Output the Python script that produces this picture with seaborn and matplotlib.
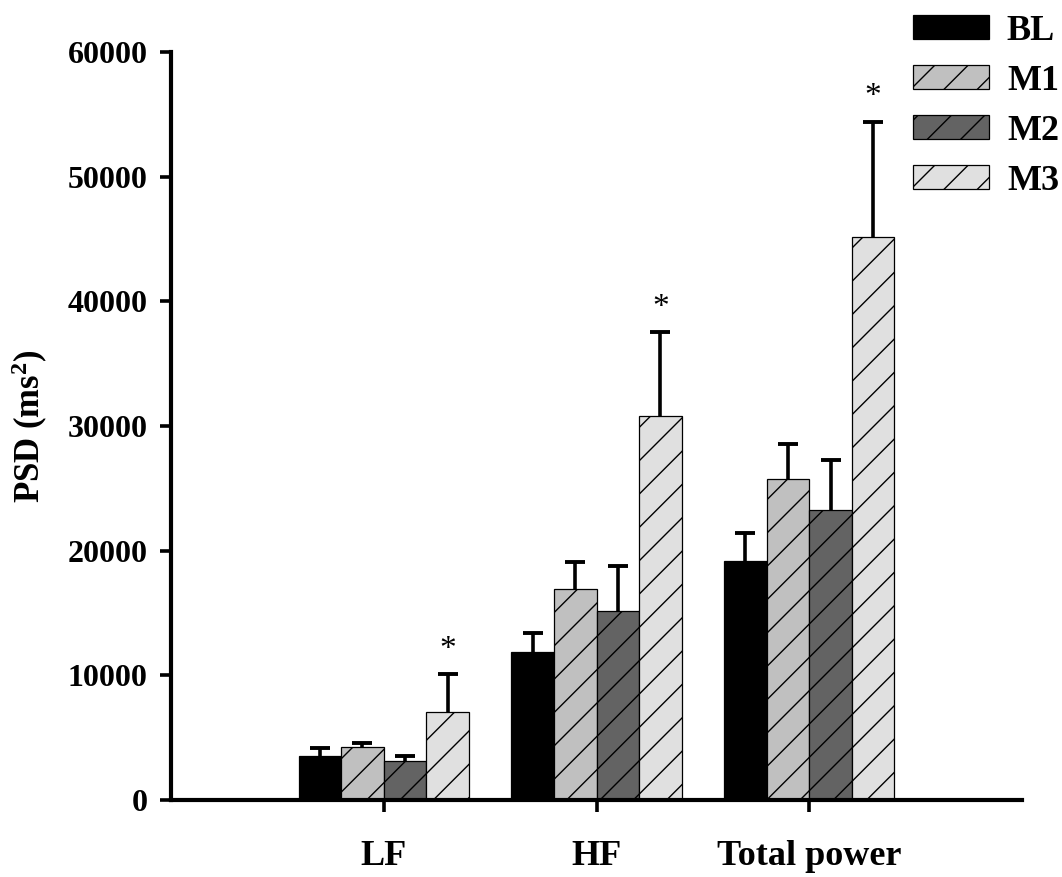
import matplotlib
matplotlib.use("Agg")
import matplotlib.pyplot as plt
import seaborn as sns
import pandas as pd
import numpy as np

# ---- data ----
categories = ["LF", "HF", "Total power"]
conditions = ["BL", "M1", "M2", "M3"]
bl_mean = [3530, 11900, 19200]
m1_mean = [4280, 16950, 25750]
m2_mean = [3130, 15200, 23260]
m3_mean = [7080, 30800, 45150]
bl_err = [620, 1520, 2250]
m1_err = [320, 2170, 2780]
m2_err = [430, 3600, 4010]
m3_err = [3000, 6710, 9220]
significant = [False, False, False, True]  # per condition (asterisk)

colors = ["#000000", "#c0c0c0", "#636363", "#e0e0e0"]
hatches = ["", "//", "//", "//"]

means = [bl_mean, m1_mean, m2_mean, m3_mean]
errs = [bl_err, m1_err, m2_err, m3_err]
df = pd.DataFrame({
    "band": np.tile(categories, len(conditions)),
    "cond": np.repeat(conditions, len(categories)),
    "psd": np.concatenate(means),
})

sns.set_style("ticks")
plt.rcParams["font.family"] = ["Liberation Serif", "DejaVu Serif"]
plt.rcParams["font.weight"] = "bold"
plt.rcParams["mathtext.fontset"] = "custom"
plt.rcParams["mathtext.rm"] = "Liberation Serif:bold"
plt.rcParams["mathtext.bf"] = "Liberation Serif:bold"
plt.rcParams["mathtext.it"] = "Liberation Serif:bold"
plt.rcParams["hatch.linewidth"] = 0.5
for k in ["text.color", "axes.labelcolor", "xtick.color", "ytick.color",
          "axes.edgecolor", "xtick.labelcolor", "ytick.labelcolor"]:
    plt.rcParams[k] = "black"

fig = plt.figure(figsize=(1062 / 200, 877 / 200), dpi=200)
ax = fig.add_axes([171 / 1062, 1 - 800 / 877, (1022 - 171) / 1062, (800 - 52) / 877])

sns.barplot(data=df, x="band", y="psd", hue="cond", order=categories,
            hue_order=conditions, palette=colors, errorbar=None,
            width=0.8, legend=False, ax=ax, saturation=1,
            edgecolor="black", linewidth=0.45)

bar_containers = list(ax.containers)
for ci, cont in enumerate(bar_containers):
    xs = []
    for p in cont.patches:
        p.set_hatch(hatches[ci])
        p.set_edgecolor("black")
        xs.append(p.get_x() + p.get_width() / 2)
    xs = np.array(xs)
    eb = ax.errorbar(xs, means[ci], yerr=[np.zeros(3), errs[ci]], fmt="none",
                     ecolor="black", elinewidth=1.3, capsize=3.6, capthick=1.4,
                     zorder=1)
    # keep only the upper caps
    for cl in eb[1]:
        if np.allclose(cl.get_ydata(), means[ci]):
            cl.set_visible(False)
    if significant[ci]:
        for x, m, e in zip(xs, means[ci], errs[ci]):
            ax.annotate("*", (x, m + e), xytext=(0, 3.5), textcoords="offset points",
                        ha="center", va="bottom", fontsize=12, fontweight="normal",
                        color="black")

ax.set_xlim(-1, 3)
ax.set_ylim(0, 60000)
ax.set_yticks(np.arange(0, 60001, 10000))
ax.set_xlabel("")
ax.set_ylabel("PSD (ms$^{2}$)", fontsize=12.5, fontweight="bold", color="black")
ax.yaxis.set_label_coords((50 - 171) / 851, 0.5)
sns.despine(ax=ax)
for s in ["left", "bottom"]:
    ax.spines[s].set_linewidth(1.5)
    ax.spines[s].set_color("black")
ax.tick_params(axis="y", length=4, width=1.3, pad=4.5, labelsize=11.5, colors="black")
ax.tick_params(axis="x", length=4.3, width=1.3, pad=10, labelsize=13, colors="black")
for lab in ax.get_xticklabels() + ax.get_yticklabels():
    lab.set_fontweight("bold")

handles = [c.patches[0] for c in bar_containers]
leg = fig.legend(handles, conditions, loc="upper left",
                 bbox_to_anchor=(913 / 1062, 1 - 15 / 877), frameon=False,
                 handlelength=2.1, handleheight=0.66,
                 handletextpad=0.5, labelspacing=0.47, borderpad=0,
                 borderaxespad=0, prop={"weight": "bold", "size": 13})
for t in leg.get_texts():
    t.set_color("black")

fig.savefig("out.png", dpi=200)
